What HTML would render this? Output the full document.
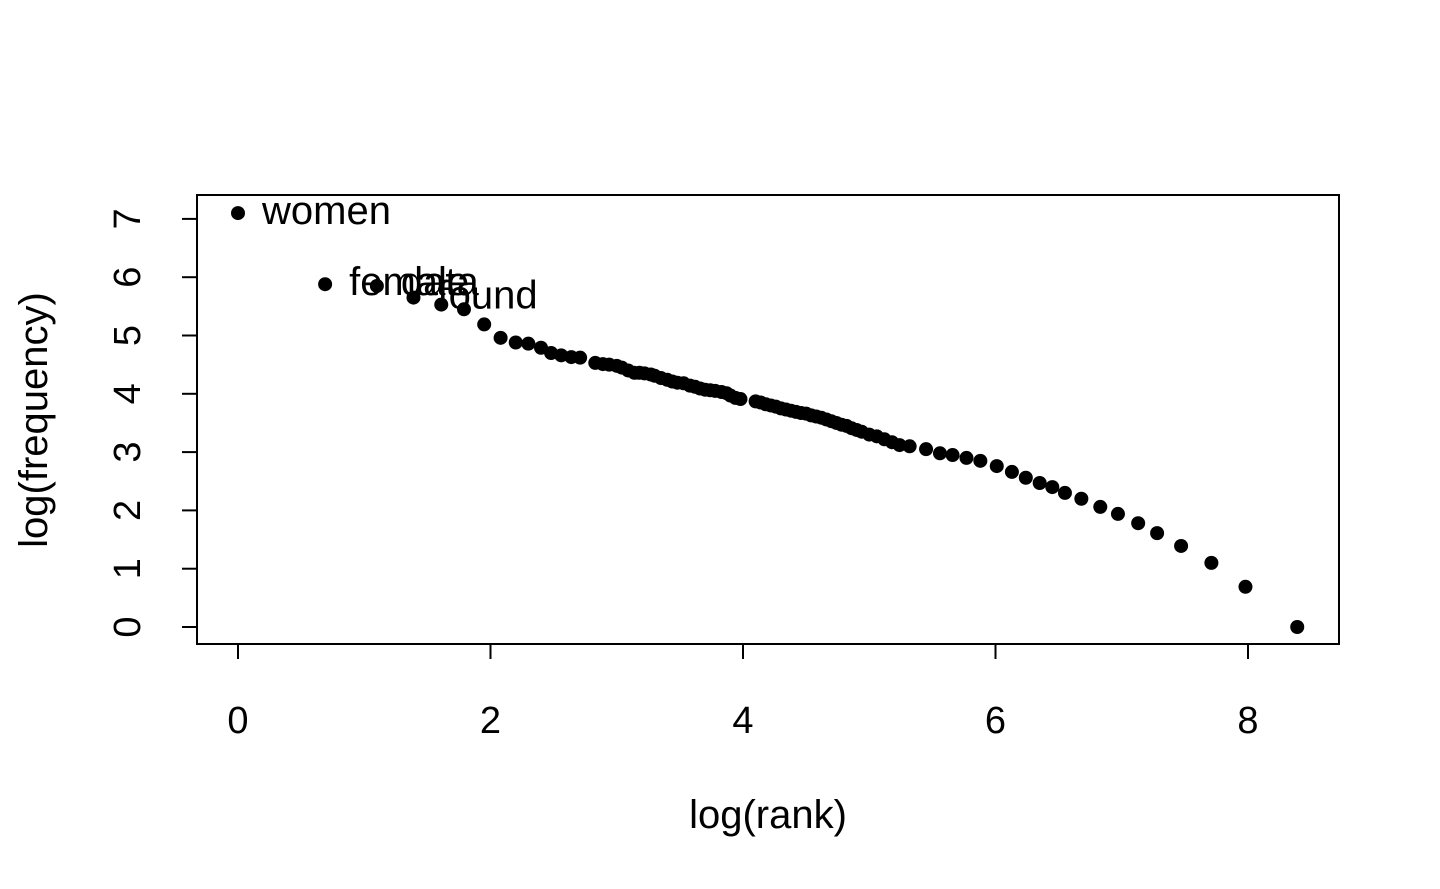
<!DOCTYPE html>
<html><head><meta charset="utf-8"><style>
html,body{margin:0;padding:0;background:#fff;}
svg{display:block;font-family:"Liberation Sans",Arial,sans-serif;}
</style></head><body>
<svg id="chart" width="1440" height="889" viewBox="0 0 1440 889">
<rect x="197" y="195" width="1142" height="449" fill="none" stroke="#000" stroke-width="2"/>
<g id="xaxis"></g>
<g id="yaxis"></g>
<g id="points"></g>
<g id="labels"></g>
<text x="768" y="828" font-size="40" text-anchor="middle">log(rank)</text>
<text transform="translate(47,420) rotate(-90)" font-size="40" text-anchor="middle">log(frequency)</text>
</svg>
<script>
const xTicks=[0,2,4,6,8];
const yTicks=[0,1,2,3,4,5,6,7];
const logRank=[0,0.69,1.1,1.39,1.61,1.79,1.95,2.08,2.2,2.3,2.4,2.48,2.56,2.64,2.71,
2.83,2.89,2.94,3.0,3.04,3.09,3.14,3.18,3.22,3.27,3.3,3.35,3.4,3.44,3.48,3.53,3.58,3.62,3.66,3.7,3.74,3.78,3.83,3.87,3.9,3.94,3.98,
4.1,4.14,4.18,4.22,4.26,4.3,4.34,4.38,4.42,4.46,4.5,4.54,4.58,4.62,4.66,4.7,4.74,4.78,4.82,4.86,4.9,4.94,5.0,5.06,5.12,5.18,5.24,
5.32,5.45,5.56,5.66,5.77,5.88,6.01,6.13,6.24,6.35,6.45,6.55,6.68,6.83,6.97,7.13,7.28,7.47,7.71,7.98,8.39];
const logFreq=[7.1,5.88,5.85,5.65,5.53,5.45,5.19,4.96,4.88,4.86,4.79,4.7,4.66,4.63,4.62,
4.53,4.51,4.5,4.48,4.45,4.4,4.36,4.36,4.35,4.33,4.31,4.27,4.24,4.21,4.19,4.18,4.14,4.12,4.09,4.07,4.06,4.05,4.03,4.01,3.97,3.93,3.91,
3.87,3.85,3.82,3.8,3.78,3.75,3.73,3.71,3.69,3.67,3.66,3.63,3.61,3.59,3.56,3.53,3.5,3.47,3.45,3.41,3.38,3.35,3.3,3.27,3.22,3.17,3.12,
3.1,3.05,2.98,2.95,2.9,2.85,2.76,2.66,2.56,2.47,2.4,2.3,2.2,2.06,1.94,1.78,1.61,1.39,1.1,0.69,0];
const labelWords=["women","female","data","found"];
const labelX=[0,0.69,1.1,1.39];
const labelY=[7.1,5.88,5.88,5.65];
const NS="http://www.w3.org/2000/svg";
const sx=v=>238+v*126.25;
const sy=v=>627-v*58.3;
function mk(tag,attrs,parent){const e=document.createElementNS(NS,tag);for(const k in attrs)e.setAttribute(k,attrs[k]);parent.appendChild(e);return e;}
const xa=document.getElementById('xaxis'),ya=document.getElementById('yaxis'),pg=document.getElementById('points'),lg=document.getElementById('labels');
let l=mk('line',{x1:sx(xTicks[0]),x2:sx(xTicks[xTicks.length-1]),y1:644,y2:644,stroke:'#000','stroke-width':2},xa);


xTicks.forEach(t=>{
 const tk=mk('line',{x1:sx(t),x2:sx(t),y1:644,y2:659,stroke:'#000','stroke-width':2},xa);
 
 
 const tx=mk('text',{x:sx(t),y:733,'font-size':38,'text-anchor':'middle'},xa);
 
 
 tx.textContent=t;
});
l=mk('line',{x1:197,x2:197,y1:sy(yTicks[0]),y2:sy(yTicks[yTicks.length-1]),stroke:'#000','stroke-width':2},ya);


yTicks.forEach(t=>{
 const tk=mk('line',{x1:182,x2:197,y1:sy(t),y2:sy(t),stroke:'#000','stroke-width':2},ya);
 
 
 const tx=mk('text',{transform:`translate(140,${sy(t)}) rotate(-90)`,'font-size':38,'text-anchor':'middle'},ya);
 
 
 tx.textContent=t;
});
logRank.forEach((v,i)=>{
 const c=mk('circle',{cx:sx(v),cy:sy(logFreq[i]),r:7,fill:'#000'},pg);
 
 
});
labelWords.forEach((w,i)=>{
 const t=mk('text',{x:sx(labelX[i])+24,y:sy(labelY[i])+11,'font-size':40},lg);
 
 
 t.textContent=w;
});
</script>
</body></html>
